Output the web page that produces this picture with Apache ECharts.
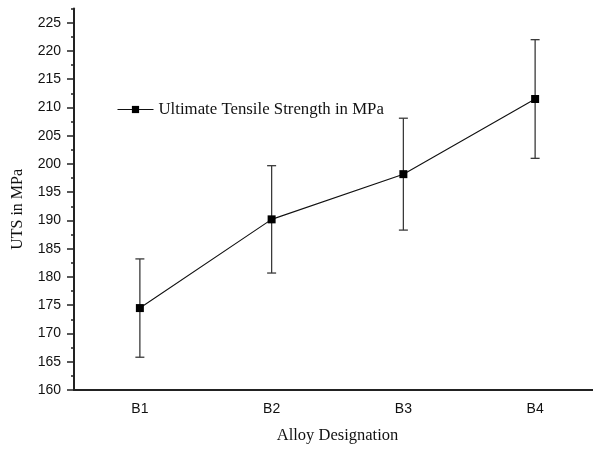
<!DOCTYPE html>
<html>
<head>
<meta charset="utf-8">
<script src="https://cdn.jsdelivr.net/npm/echarts@6/dist/echarts.min.js"></script>
<style>
  html, body { margin: 0; padding: 0; background: #fff; }
  #chart { width: 593px; height: 450px; }
</style>
</head>
<body>
<div id="chart"></div>
<script>
// Alloy designations and their ultimate tensile strength (mean and error, MPa)
const categories = ['B1', 'B2', 'B3', 'B4'];
const utsMean = [174.5, 190.2, 198.2, 211.5];
const utsError = [8.7, 9.5, 9.9, 10.5];

// Value axis range and tick spacing
const yMin = 160;
const yMajorMax = 225;
const yAxisTop = 227.5;
const yMajorStep = 5;
const yMinorStep = 2.5;

const seriesName = 'Ultimate Tensile Strength in MPa';
const axisColor = '#222';
const serif = '"Liberation Serif", "Times New Roman", serif';
const sans = '"Liberation Sans", Arial, sans-serif';

// Error bar rows: [category index, low, high]
const errorRows = categories.map((c, i) => [i, utsMean[i] - utsError[i], utsMean[i] + utsError[i]]);

const chart = echarts.init(document.getElementById('chart'), null, { renderer: 'canvas' });

chart.setOption({
  animation: false,
  backgroundColor: '#fff',
  grid: [
    // plotting area (axis runs up to 227.5, carries minor ticks); runs past the right edge
    { left: 74, width: 527, top: 8.6, bottom: 60, containLabel: false, outerBoundsMode: 'none' },
    // labelled major ticks, ending at 225
    { left: 74, width: 527, top: 22.7, bottom: 60, containLabel: false, outerBoundsMode: 'none' }
  ],
  legend: {
    left: 117,
    top: 101,
    padding: 0,
    itemWidth: 36,
    itemHeight: 9,
    lineStyle: { width: 1 },
    textStyle: { fontFamily: serif, fontSize: 16.8, color: '#111' },
    data: [seriesName]
  },
  xAxis: [
    {
      type: 'category',
      gridIndex: 0,
      data: categories,
      boundaryGap: true,
      name: 'Alloy Designation',
      nameLocation: 'middle',
      nameGap: 37,
      nameTextStyle: { fontFamily: serif, fontSize: 16.5, color: '#111' },
      axisLine: { onZero: false, lineStyle: { color: axisColor, width: 2 } },
      axisTick: { alignWithLabel: true, length: 7, lineStyle: { color: axisColor, width: 1.5 } },
      axisLabel: { margin: 12, fontFamily: sans, fontSize: 14, color: '#111' },
      splitLine: { show: false }
    },
    {
      type: 'category',
      gridIndex: 0,
      data: categories,
      boundaryGap: true,
      position: 'bottom',
      axisLine: { show: false, onZero: false },
      axisTick: { length: 4, lineStyle: { color: axisColor, width: 1.5 } },
      axisLabel: { show: false },
      splitLine: { show: false }
    },
    {
      type: 'category',
      gridIndex: 1,
      data: categories,
      show: false
    }
  ],
  yAxis: [
    {
      type: 'value',
      gridIndex: 0,
      min: yMin,
      max: yAxisTop,
      interval: yMinorStep,
      axisLine: { show: true, lineStyle: { color: axisColor, width: 2 } },
      axisTick: { show: true, length: 3, lineStyle: { color: axisColor, width: 1.5 } },
      axisLabel: { show: false },
      splitLine: { show: false }
    },
    {
      type: 'value',
      gridIndex: 1,
      min: yMin,
      max: yMajorMax,
      interval: yMajorStep,
      name: 'UTS in MPa',
      nameLocation: 'middle',
      nameGap: 48,
      nameTextStyle: { fontFamily: serif, fontSize: 16, color: '#111', padding: [0, 6, 0, 0] },
      axisLine: { show: false },
      axisTick: { show: true, length: 7, lineStyle: { color: axisColor, width: 1.5 } },
      axisLabel: { margin: 13, fontFamily: sans, fontSize: 14, color: '#111' },
      splitLine: { show: false }
    }
  ],
  series: [
    {
      type: 'custom',
      name: 'error',
      xAxisIndex: 0,
      yAxisIndex: 0,
      data: errorRows,
      z: 1,
      silent: true,
      renderItem: function (params, api) {
        const x = api.value(0);
        const lo = api.coord([x, api.value(1)]);
        const hi = api.coord([x, api.value(2)]);
        const cap = 4.5;
        const style = { stroke: '#3a3a3a', lineWidth: 1.3 };
        return {
          type: 'group',
          children: [
            { type: 'line', shape: { x1: hi[0], y1: hi[1], x2: lo[0], y2: lo[1] }, style: style },
            { type: 'line', shape: { x1: hi[0] - cap, y1: hi[1], x2: hi[0] + cap, y2: hi[1] }, style: style },
            { type: 'line', shape: { x1: lo[0] - cap, y1: lo[1], x2: lo[0] + cap, y2: lo[1] }, style: style }
          ]
        };
      }
    },
    {
      type: 'line',
      name: seriesName,
      xAxisIndex: 0,
      yAxisIndex: 0,
      data: utsMean,
      z: 3,
      symbol: 'rect',
      symbolSize: 8,
      itemStyle: { color: '#000' },
      lineStyle: { color: '#111', width: 1.1 }
    }
  ]
});
</script>
</body>
</html>
